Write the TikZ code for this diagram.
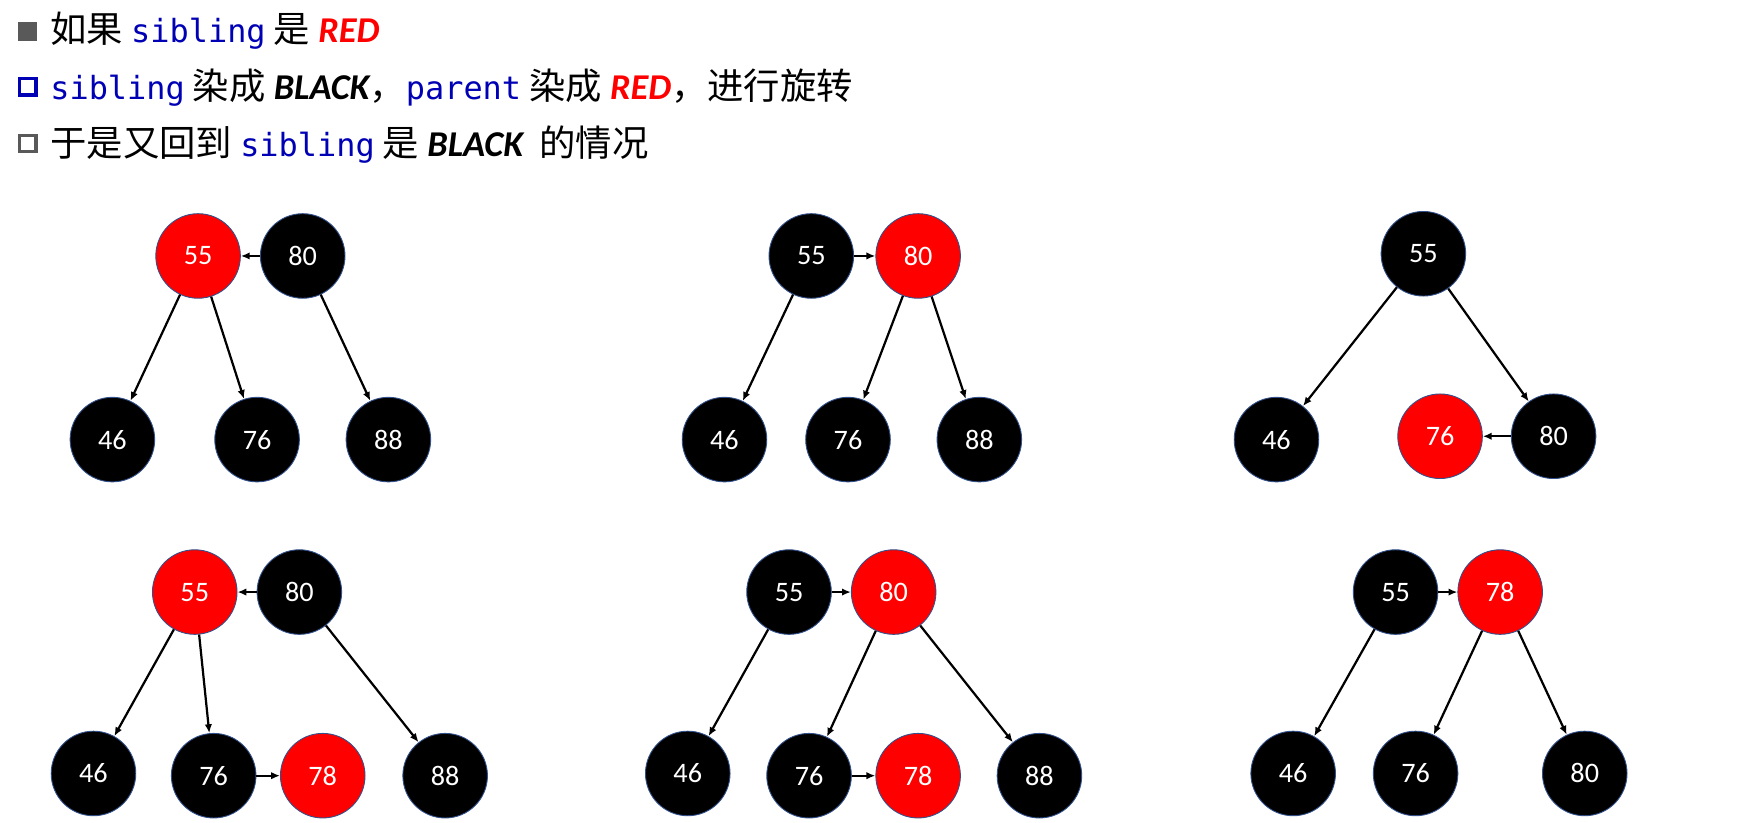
\documentclass[tikz,border=0pt]{standalone}
\usepackage{fontspec}
\setmainfont{Carlito}
\newfontfamily\cjk{Noto Sans CJK SC}
\newfontfamily\codef{DejaVu Sans Mono}
\usetikzlibrary{arrows.meta}
\definecolor{rbred}{RGB}{255,0,0}
\definecolor{codeblue}{RGB}{0,0,180}
\definecolor{bulgray}{RGB}{89,89,89}
\tikzset{
 nd/.style={circle,minimum size=57pt,inner sep=0pt,draw={rgb,255:red,50;green,80;blue,140},line width=0.6pt,text=white,font=\fontsize{19}{19}\selectfont},
 bk/.style={nd,fill=black},
 rd/.style={nd,fill=rbred},
 ed/.style={-{Latex[length=6pt,width=5pt]},line width=1.5pt},
 hd/.style={anchor=base west,inner sep=0pt,font=\fontsize{24.5}{24}\selectfont}
}
\newcommand{\cd}[1]{{\codef\color{codeblue}\fontsize{21.5}{20}\selectfont #1}}
\newcommand{\bi}[2]{{\rmfamily\color{#1}\bfseries\itshape #2}}
\begin{document}
\begin{tikzpicture}[x=0.75pt,y=-0.75pt]
\useasboundingbox (0,0) rectangle (1568,739);
% header
\node[fill=bulgray,minimum size=13pt,inner sep=0pt] (b1) at (25,28) {};
\node[hd] (t1) at (45,38) {\cjk 如果 \cd{sibling}\ 是 \bi{rbred}{RED}};
\node[draw=codeblue,line width=2.2pt,minimum size=11pt,inner sep=0pt] (b2) at (25,78) {};
\node[hd] (t2) at (45,89) {\cjk\cd{sibling}\ 染成 \bi{black}{BLACK}，\cd{parent}\ 染成 \bi{rbred}{RED}，进行旋转};
\node[draw=bulgray,line width=2.2pt,minimum size=11pt,inner sep=0pt] (b3) at (25,129) {};
\node[hd] (t3) at (45,141) {\cjk 于是又回到 \cd{sibling}\ 是 \bi{black}{BLACK}\ \ 的情况};
% tree 1
\node[rd] (a55) at (178,230) {55};
\node[bk] (a80) at (272,230) {80};
\node[bk] (a46) at (101,395) {46};
\node[bk] (a76) at (231,395) {76};
\node[bk] (a88) at (349,395) {88};
\draw[ed] (a80)--(a55); \draw[ed] (a55)--(a46); \draw[ed] (a55)--(a76); \draw[ed] (a80)--(a88);
% tree 2
\node[bk] (b55) at (729,230) {55};
\node[rd] (b80) at (825,230) {80};
\node[bk] (b46) at (651,395) {46};
\node[bk] (b76) at (762,395) {76};
\node[bk] (b88) at (880,395) {88};
\draw[ed] (b55)--(b80); \draw[ed] (b55)--(b46); \draw[ed] (b80)--(b76); \draw[ed] (b80)--(b88);
% tree 3
\node[bk] (c55) at (1279,228) {55};
\node[bk] (c46) at (1147,395) {46};
\node[bk] (c80) at (1396,392) {80};
\node[rd] (c76) at (1294,392) {76};
\draw[ed] (c55)--(c46); \draw[ed] (c55)--(c80); \draw[ed] (c80)--(c76);
% tree 4
\node[rd] (d55) at (175,532) {55};
\node[bk] (d80) at (269,532) {80};
\node[bk] (d46) at (84,695) {46};
\node[bk] (d76) at (192,697) {76};
\node[rd] (d78) at (290,697) {78};
\node[bk] (d88) at (400,697) {88};
\draw[ed] (d80)--(d55); \draw[ed] (d55)--(d46); \draw[ed] (d55)--(d76); \draw[ed] (d76)--(d78); \draw[ed] (d80)--(d88);
% tree 5
\node[bk] (e55) at (709,532) {55};
\node[rd] (e80) at (803,532) {80};
\node[bk] (e46) at (618,695) {46};
\node[bk] (e76) at (727,697) {76};
\node[rd] (e78) at (825,697) {78};
\node[bk] (e88) at (934,697) {88};
\draw[ed] (e55)--(e80); \draw[ed] (e55)--(e46); \draw[ed] (e80)--(e76); \draw[ed] (e76)--(e78); \draw[ed] (e80)--(e88);
% tree 6
\node[bk] (f55) at (1254,532) {55};
\node[rd] (f78) at (1348,532) {78};
\node[bk] (f46) at (1162,695) {46};
\node[bk] (f76) at (1272,695) {76};
\node[bk] (f80) at (1424,695) {80};
\draw[ed] (f55)--(f78); \draw[ed] (f55)--(f46); \draw[ed] (f78)--(f76); \draw[ed] (f78)--(f80);
\end{tikzpicture}
\end{document}
